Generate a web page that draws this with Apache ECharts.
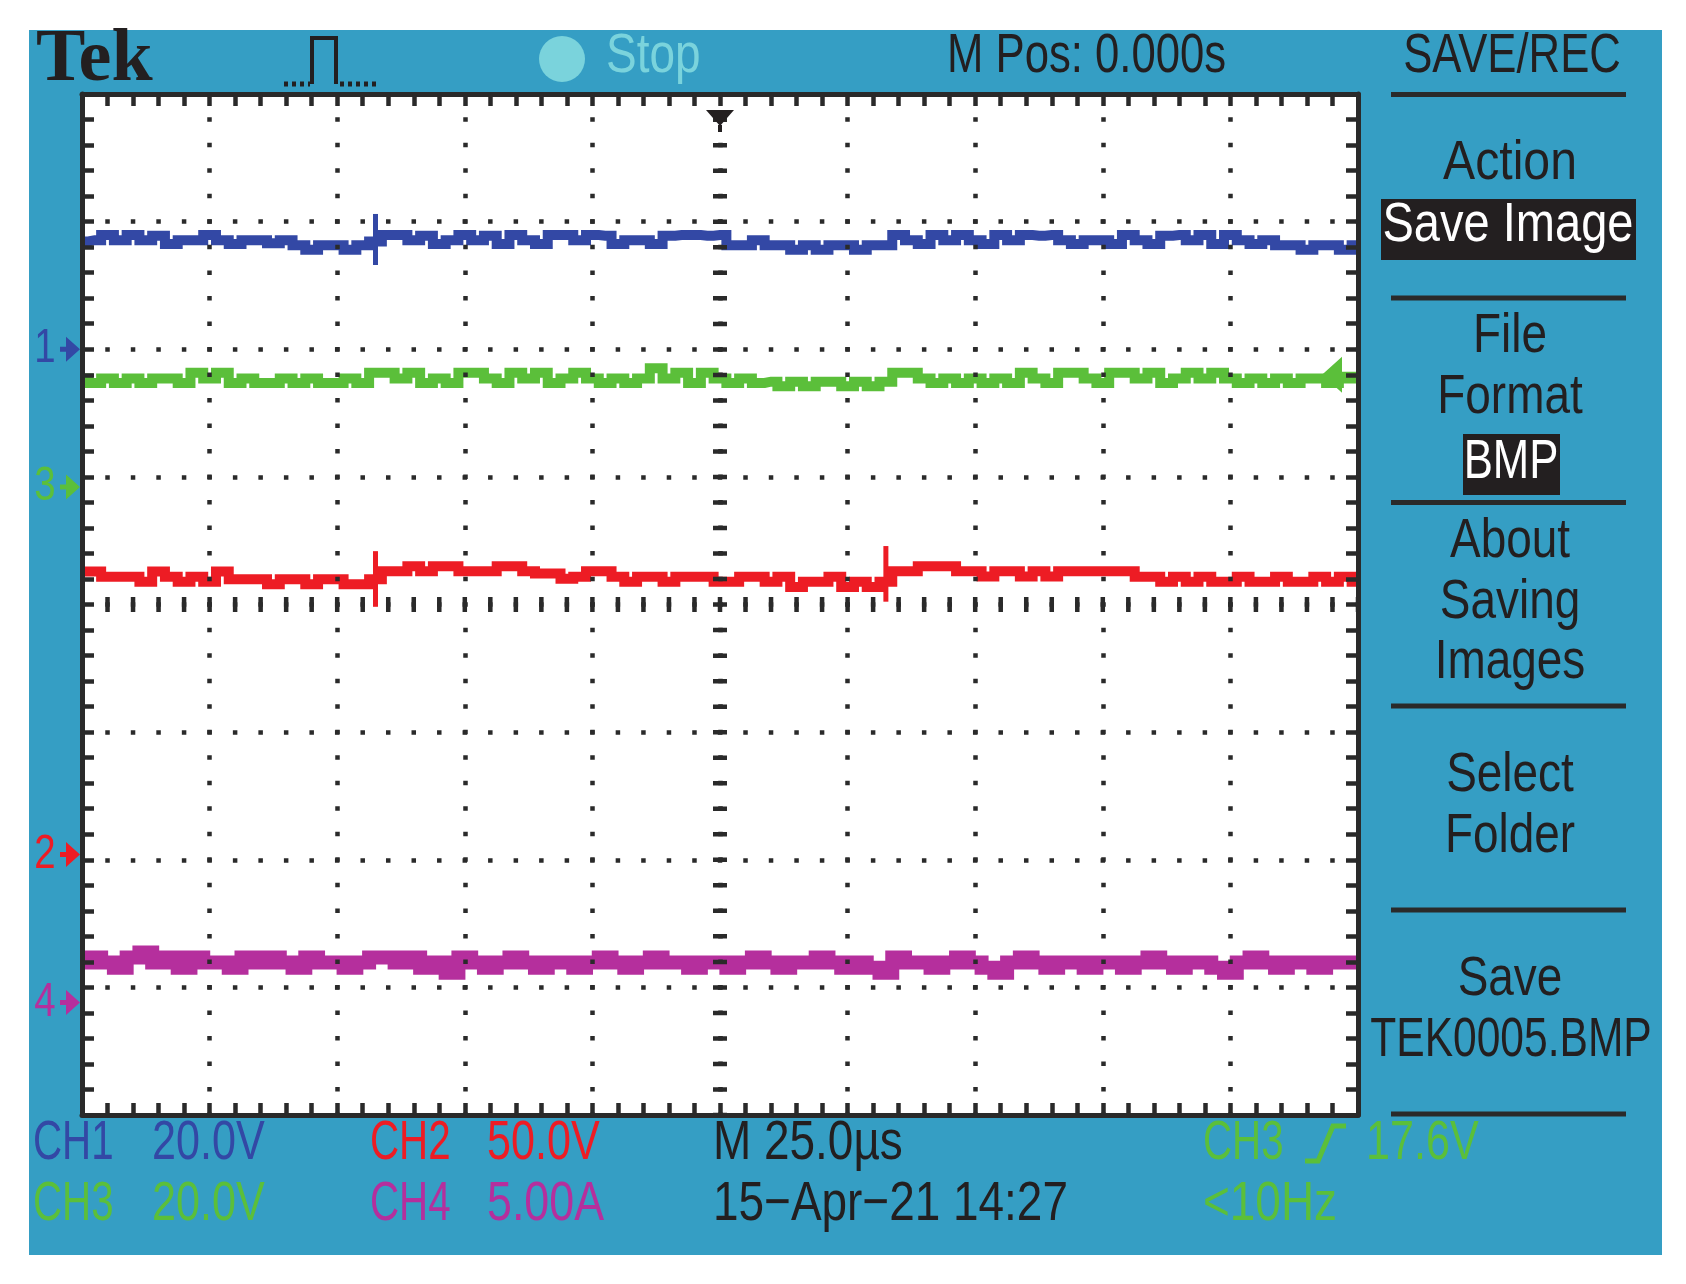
<!DOCTYPE html>
<html><head><meta charset="utf-8">
<script src="https://cdn.jsdelivr.net/npm/echarts@6/dist/echarts.min.js"></script>
<style>html,body{margin:0;padding:0;background:#fff}#c{width:1686px;height:1284px}</style>
</head><body><div id="c"></div>
<script>
// ---- scope settings ----
const SAMPLE_START_US = -125;
const SAMPLE_STEP_US = 2.5;
const timeRangeUs = [-125, 125];
const timePerDivUs = 25;
const divRange = [-4, 4];
const channelNames = ['CH1', 'CH2', 'CH3', 'CH4'];
const unitsPerDiv = [20, 50, 20, 5];            // V/div, V/div, V/div, A/div
const groundDivFromCenter = [2, -1.958, 0.921, -3.118];
const triggerLevelCh3 = 17.6;

const ch1Volts = [16.9,17.1,17.9,17.1,17.9,17.1,17.8,16.5,17.1,17.1,17.9,17.1,16.5,17.1,17.1,16.6,17.1,16.3,15.6,16.3,16.3,15.6,16.3,16.9,17.9,17.9,17.1,17.8,16.5,17.1,17.9,17.1,17.8,16.5,17.9,17.1,16.5,17.9,17.9,17.1,17.9,17.8,16.5,17.1,17.1,16.5,17.8,17.9,17.9,17.8,17.9,16.3,16.3,17.1,16.3,16.3,15.6,16.3,15.6,16.3,16.3,15.6,16.3,16.3,17.9,17.1,16.5,17.9,17.1,17.9,17.1,16.5,17.9,17.1,17.9,17.8,17.9,17.1,16.5,17.1,17.1,16.5,17.9,17.1,16.5,17.8,17.9,17.1,17.9,16.5,17.9,17.1,16.5,17.1,16.3,16.3,15.6,16.3,16.3,15.6,16.3];
const ch2Volts = [110.8,110.8,108.8,108.8,108.8,106.8,110.8,108.8,106.8,108.8,106.8,110.8,107.8,107.8,107.8,105.8,107.8,107.8,105.8,107.8,107.8,105.8,105.8,107.8,110.9,110.9,112.9,110.9,112.9,112.9,110.9,110.9,110.9,112.9,112.9,110.9,110.0,110.0,108.0,108.8,110.9,110.9,108.8,106.8,108.8,108.8,106.8,108.8,108.8,108.8,106.8,106.8,108.8,108.8,106.8,108.8,104.8,106.8,106.8,108.8,104.8,106.8,104.8,106.8,110.9,110.9,112.9,112.9,112.9,110.9,110.9,108.9,110.9,110.9,108.9,110.9,108.9,110.9,110.9,110.9,110.9,110.9,110.9,108.8,108.8,106.8,108.8,106.8,108.8,106.8,106.8,108.8,106.8,106.8,108.8,106.8,106.8,108.8,106.8,108.8,106.8];
const ch3Volts = [17.0,16.3,17.0,16.3,17.0,16.3,17.0,17.0,16.3,17.9,17.0,17.9,16.3,17.0,16.3,16.3,17.0,16.3,17.0,16.3,16.3,17.0,16.3,17.9,17.9,17.0,17.9,16.3,17.0,16.3,17.9,17.9,17.0,16.3,17.9,17.0,17.9,16.3,17.0,17.9,17.0,16.3,17.0,16.3,17.0,18.6,17.0,17.9,16.3,17.9,17.0,16.3,17.0,16.3,16.5,15.8,16.5,15.8,16.5,16.5,15.8,16.5,15.8,16.5,17.9,17.9,17.0,16.3,17.0,16.3,17.0,16.3,17.0,16.3,17.9,17.0,16.3,17.9,17.9,17.0,16.3,17.9,17.9,17.0,17.9,16.3,17.0,17.9,17.0,17.9,17.0,16.3,17.0,16.3,17.0,16.3,17.0,17.0,16.3,17.0,17.0];
const ch4Amps = [1.56,1.76,1.56,1.36,1.76,1.96,1.56,1.76,1.36,1.76,1.56,1.56,1.36,1.76,1.56,1.76,1.56,1.36,1.76,1.56,1.56,1.36,1.56,1.76,1.76,1.56,1.76,1.36,1.56,1.16,1.76,1.56,1.36,1.56,1.76,1.56,1.36,1.56,1.56,1.36,1.56,1.76,1.56,1.36,1.56,1.76,1.56,1.56,1.36,1.56,1.56,1.36,1.56,1.76,1.56,1.36,1.56,1.56,1.76,1.56,1.36,1.56,1.36,1.16,1.76,1.56,1.56,1.36,1.56,1.76,1.56,1.36,1.16,1.56,1.76,1.56,1.36,1.56,1.56,1.36,1.56,1.56,1.36,1.56,1.76,1.56,1.36,1.56,1.56,1.36,1.16,1.56,1.76,1.56,1.36,1.56,1.56,1.36,1.56,1.56,1.56];
// switching spikes: [time µs, low, high]
const ch1Spikes = [[-67.5, 13.2, 21.2]];
const ch2Spikes = [[-67.5, 97.0, 118.8], [32.5, 99.0, 120.8]];

// ---- texts ----
const topTexts = { brand: 'Tek', state: 'Stop', pos: 'M Pos: 0.000s', menu: 'SAVE/REC' };
const menuItems = ['Action', 'Save Image', 'File', 'Format', 'BMP', 'About', 'Saving', 'Images', 'Select', 'Folder', 'Save', 'TEK0005.BMP'];
const statusRow1 = ['CH1', '20.0V', 'CH2', '50.0V', 'M 25.0µs', 'CH3', '17.6V'];
const statusRow2 = ['CH3', '20.0V', 'CH4', '5.00A', '15−Apr−21 14:27', '<10Hz'];

// ---- styles ----
const C_BLUE = '#3348A5', C_RED = '#ED1C24', C_GREEN = '#5BBF3A', C_MAG = '#B52F9D';
const C_PANEL = '#359EC4', C_DARK = '#231F20', C_GRID = '#2A2A2A', C_STOP = '#7AD3DC';
const chColors = [C_BLUE, C_RED, C_GREEN, C_MAG];
const FONT = '"Liberation Sans",Arial,sans-serif';
const DOT = [4.5, 21.02];

const chart = echarts.init(document.getElementById('c'), null, { renderer: 'canvas' });

const toPairs = vals => vals.map((v, i) => [SAMPLE_START_US + i * SAMPLE_STEP_US, v]);

function graticuleAxis(pos, isX, withSplit) {
  const range = isX ? timeRangeUs : divRange;
  return {
    type: 'value', position: pos, min: range[0], max: range[1], interval: isX ? timePerDivUs : 1,
    z: 5,
    axisLine: { show: true, onZero: false, lineStyle: { color: C_GRID, width: 5 } },
    axisTick: { show: true, inside: true, length: 12, lineStyle: { color: C_GRID, width: 4.5 } },
    minorTick: { show: true, splitNumber: 5, length: 12, lineStyle: { color: C_GRID, width: 4.5 } },
    axisLabel: { show: false },
    splitLine: { show: withSplit, lineStyle: { color: C_GRID, width: 4.5, type: DOT, dashOffset: 2.25 } },
    minorSplitLine: { show: false }
  };
}

const channelYAxes = channelNames.map((n, k) => ({
  type: 'value', show: false, name: n,
  min: -(4 + groundDivFromCenter[k]) * unitsPerDiv[k],
  max: (4 - groundDivFromCenter[k]) * unitsPerDiv[k],
  splitLine: { show: false }
}));

function trace(name, vals, k, width, extra) {
  return Object.assign({
    type: 'line', name, xAxisIndex: 0, yAxisIndex: 2 + k, data: toPairs(vals),
    step: 'middle', symbol: 'none', showSymbol: false, silent: true, z: 2,
    lineStyle: { color: chColors[k], width, cap: 'butt', join: 'miter' }
  }, extra || {});
}
function spikes(name, arr, k) {
  return {
    type: 'custom', name, xAxisIndex: 0, yAxisIndex: 2 + k, data: arr, silent: true, z: 2,
    encode: { x: 0, y: [1, 2] },
    renderItem: (params, api) => {
      const a = api.coord([api.value(0), api.value(1)]);
      const b = api.coord([api.value(0), api.value(2)]);
      return { type: 'line', shape: { x1: a[0], y1: a[1], x2: b[0], y2: b[1] }, style: { stroke: chColors[k], lineWidth: 5 } };
    }
  };
}

function txt(x, y, s, color, align, sx, font) {
  return { type: 'text', x, y, scaleX: sx || 0.82, scaleY: 1, silent: true, z: 20,
    style: { x: 0, y: 0, text: s, fill: color, font: font || ('56px ' + FONT), align: align || 'left', textAlign: align || 'left', verticalAlign: 'middle', textVerticalAlign: 'middle' } };
}
function hline(x1, x2, y, color, w) {
  return { type: 'line', silent: true, z: 20, shape: { x1, y1: y, x2, y2: y }, style: { stroke: color, lineWidth: w } };
}
function box(x, y, w, h, color) {
  return { type: 'rect', silent: true, z: 15, shape: { x, y, width: w, height: h }, style: { fill: color } };
}

const MX = 1510;
const graphics = [
  { type: 'rect', silent: true, z: -100, shape: { x: 29, y: 30, width: 1633, height: 1225 }, style: { fill: C_PANEL } },
  // top bar
  txt(36, 61, topTexts.brand, C_DARK, 'left', 1, 'bold 74px "Liberation Serif","DejaVu Serif",serif'),
  { type: 'polyline', silent: true, z: 20, shape: { points: [[312, 84], [312, 38], [336, 38], [336, 84]] }, style: { stroke: C_DARK, lineWidth: 4, fill: null } },
  { type: 'polyline', silent: true, z: 20, shape: { points: [[284, 84], [310, 84]] }, style: { stroke: C_DARK, lineWidth: 5, fill: null, lineDash: [4, 4] } },
  { type: 'polyline', silent: true, z: 20, shape: { points: [[340, 84], [377, 84]] }, style: { stroke: C_DARK, lineWidth: 5, fill: null, lineDash: [4, 4] } },
  { type: 'circle', silent: true, z: 20, shape: { cx: 562, cy: 59, r: 23 }, style: { fill: C_STOP } },
  txt(606, 57, topTexts.state, C_STOP),
  txt(947, 57, topTexts.pos, C_DARK, 'left', 0.78),
  txt(1512, 57, topTexts.menu, C_DARK, 'center', 0.78),
  // menu separators & boxes
  hline(1391, 1626, 94.5, C_GRID, 5),
  hline(1391, 1626, 298, C_GRID, 5),
  hline(1391, 1626, 502.5, C_GRID, 5),
  hline(1391, 1626, 706, C_GRID, 5),
  hline(1391, 1626, 910, C_GRID, 5),
  hline(1391, 1626, 1114, C_GRID, 5),
  box(1381, 199, 255, 61, C_DARK),
  box(1463, 434, 97, 61, C_DARK),
  txt(MX, 164, menuItems[0], C_DARK, 'center', 0.86),
  txt(1508, 226, menuItems[1], '#FFFFFF', 'center', 0.84),
  txt(MX, 337, menuItems[2], C_DARK, 'center'),
  txt(MX, 398, menuItems[3], C_DARK, 'center'),
  txt(1511, 463, menuItems[4], '#FFFFFF', 'center', 0.78),
  txt(MX, 542, menuItems[5], C_DARK, 'center'),
  txt(MX, 603, menuItems[6], C_DARK, 'center'),
  txt(MX, 663, menuItems[7], C_DARK, 'center'),
  txt(MX, 776, menuItems[8], C_DARK, 'center'),
  txt(MX, 837, menuItems[9], C_DARK, 'center'),
  txt(MX, 980, menuItems[10], C_DARK, 'center'),
  txt(1511, 1041, menuItems[11], C_DARK, 'center', 0.76),
  // status rows
  txt(33, 1144, statusRow1[0], C_BLUE, 'left', 0.72),
  txt(152, 1144, statusRow1[1], C_BLUE, 'left', 0.77),
  txt(370, 1144, statusRow1[2], C_RED, 'left', 0.72),
  txt(487, 1144, statusRow1[3], C_RED, 'left', 0.77),
  txt(713, 1144, statusRow1[4], C_DARK),
  txt(1203, 1144, statusRow1[5], C_GREEN, 'left', 0.72),
  { type: 'polyline', silent: true, z: 20, shape: { points: [[1305, 1161], [1318, 1161], [1333, 1126], [1346, 1126]] }, style: { stroke: C_GREEN, lineWidth: 5, fill: null } },
  txt(1366, 1144, statusRow1[6], C_GREEN, 'left', 0.77),
  txt(33, 1205, statusRow2[0], C_GREEN, 'left', 0.72),
  txt(152, 1205, statusRow2[1], C_GREEN, 'left', 0.77),
  txt(370, 1205, statusRow2[2], C_MAG, 'left', 0.72),
  txt(487, 1205, statusRow2[3], C_MAG, 'left', 0.8),
  txt(713, 1205, statusRow2[4], C_DARK),
  txt(1203, 1205, statusRow2[5], C_GREEN)
];

const option = {
  animation: false,
  backgroundColor: '#FFFFFF',
  grid: { left: 82, top: 94, width: 1276, height: 1021, show: true, backgroundColor: '#FFFFFF', borderWidth: 0, containLabel: false },
  xAxis: [graticuleAxis('bottom', true, true), graticuleAxis('top', true, false)],
  yAxis: [graticuleAxis('left', false, true), graticuleAxis('right', false, false)].concat(channelYAxes),
  series: [
    {
      type: 'line', name: 'graticule', xAxisIndex: 0, yAxisIndex: 0, data: [[0, 0]], symbol: 'none', silent: true, z: 6,
      lineStyle: { opacity: 0 },
      markLine: {
        silent: true, symbol: ['none', 'none'], label: { show: false }, animation: false,
        data: [
          { xAxis: 0, lineStyle: { color: C_GRID, width: 14, type: DOT, dashOffset: 2.25 } },
          { yAxis: 0, lineStyle: { color: C_GRID, width: 15, type: DOT, dashOffset: 2.25 } }
        ]
      },
      markPoint: {
        silent: true, animation: false, label: { show: false },
        data: [{ coord: [0, divRange[1]], symbol: 'path://M0,0 L28,0 L14,16 Z M12,15 L16,15 L16,22 L12,22 Z', symbolSize: [28, 22], symbolOffset: [0, 27], symbolKeepAspect: false, itemStyle: { color: C_DARK } }]
      }
    },
    trace('CH1', ch1Volts, 0, 10),
    trace('CH2', ch2Volts, 1, 10),
    trace('CH3', ch3Volts, 2, 10, {
      markPoint: {
        silent: true, animation: false, label: { show: false },
        data: [{ coord: [timeRangeUs[1], triggerLevelCh3], symbol: 'path://M0,18 L20,0 L20,15 L38,15 L38,21 L20,21 L20,36 Z', symbolSize: [38, 36], symbolOffset: [-17, 0], itemStyle: { color: C_GREEN } }]
      }
    }),
    trace('CH4', ch4Amps, 3, 14),
    spikes('CH1 spikes', ch1Spikes, 0),
    spikes('CH2 spikes', ch2Spikes, 1)
  ],
  graphic: { elements: graphics }
};
chart.setOption(option);

// channel ground markers placed through each channel's own scale
const markerEls = [];
channelNames.forEach((n, k) => {
  const gy = chart.convertToPixel({ yAxisIndex: 2 + k }, 0);
  markerEls.push(txt(45, gy, String(k + 1), chColors[k], 'center', 0.8, '48px ' + FONT));
  markerEls.push({ type: 'polygon', silent: true, z: 20,
    shape: { points: [[60, gy - 2.5], [66, gy - 2.5], [66, gy - 12.5], [80, gy], [66, gy + 12.5], [66, gy + 2.5], [60, gy + 2.5]] },
    style: { fill: chColors[k] } });
});
chart.setOption({ graphic: { elements: graphics.concat(markerEls) } }, { replaceMerge: ['graphic'] });
</script></body></html>
